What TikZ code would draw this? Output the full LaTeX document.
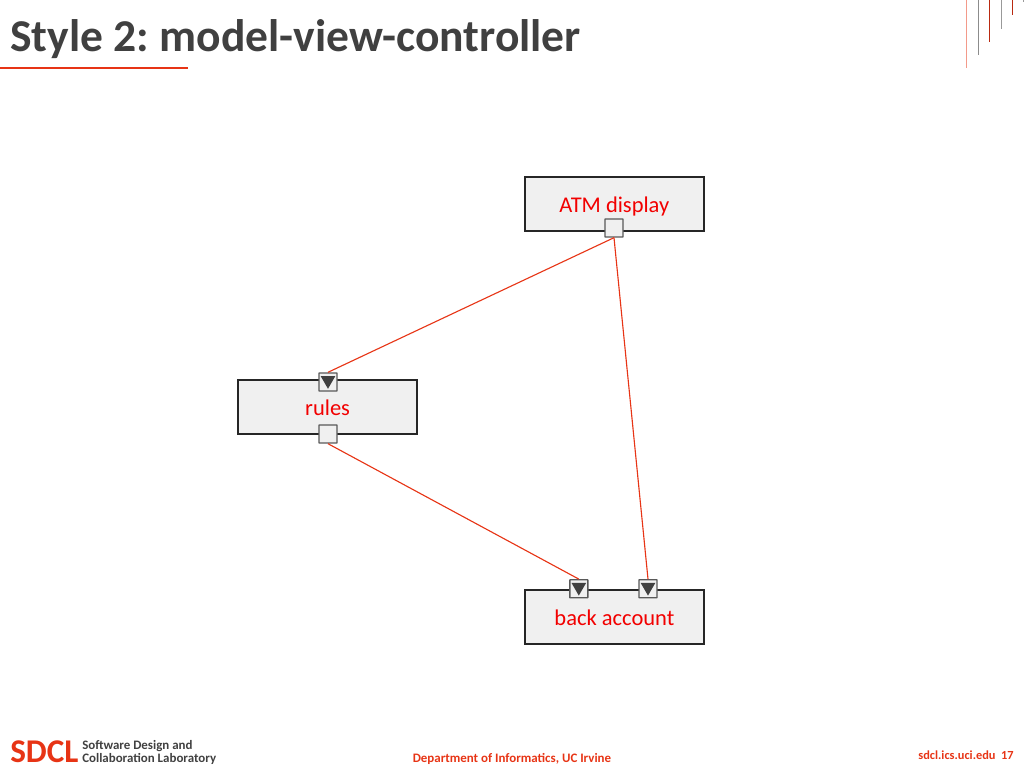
\documentclass[tikz,border=0pt]{standalone}
\usepackage{fontspec}
\setmainfont{Carlito}
\usetikzlibrary{shapes.geometric}
\definecolor{sdclred}{RGB}{231,52,21}
\definecolor{titlegray}{RGB}{64,64,64}
\definecolor{boxfill}{RGB}{240,240,240}
\definecolor{portgray}{RGB}{89,89,89}
\tikzset{
  compbox/.style={draw=black!85,line width=1pt,fill=boxfill,minimum width=4.475cm,minimum height=1.35cm,
    inner sep=0pt,text=red!95!black,font=\fontsize{16}{18}\selectfont,text height=0.54cm,text depth=0.1cm},
  portbox/.style={draw=portgray,line width=1pt,fill=boxfill,minimum size=0.45cm,inner sep=0pt,rounded corners=0.3pt},
  porttip/.style={regular polygon,regular polygon sides=3,shape border rotate=180,fill=titlegray,inner sep=0pt,minimum size=0.42cm,yshift=0.04cm},
  wire/.style={draw=sdclred,line width=0.8pt},
  footer/.style={inner sep=0pt,font=\fontsize{9.2}{10}\selectfont\bfseries},
}
\begin{document}
\begin{tikzpicture}
  \useasboundingbox (0,0) rectangle (25.6,19.2);

  % title
  \node[anchor=base west,inner sep=0pt,text=titlegray,font=\fontsize{32.4}{34}\selectfont\bfseries] (title) at (0.25,17.92) {Style 2:\hspace{7.5pt}model-view-controller};
  \draw[sdclred,line width=1pt] (0,17.5) -- (4.7,17.5);

  % corner lines
  \foreach \x/\y/\c in {24.16/17.5/sdclred!50, 24.45/17.83/black!45, 24.74/18.15/sdclred!80!black, 25.03/18.47/black!40, 25.31/18.82/sdclred!80!black, 25.58/19.14/black!40}
    \draw[\c,line width=0.7pt] (\x,19.2) -- (\x,\y);

  % components
  \node[compbox] (atm) at (15.36,14.1) {ATM display};
  \node[compbox] (rules) at (8.19,9.025) {rules};
  \node[compbox] (account) at (15.36,3.775) {back account};

  % ports
  \node[portbox] (atmout) at (15.35,13.5) {};
  \node[portbox] (rulesin) at (8.2,9.65) {};
  \node[portbox] (rulesout) at (8.2,8.35) {};
  \node[portbox] (accountl) at (14.47,4.48) {};
  \node[portbox] (accountr) at (16.2,4.48) {};
  \node[porttip] at (rulesin) {};
  \node[porttip] at (accountl) {};
  \node[porttip] at (accountr) {};

  % connectors
  \draw[wire] (atmout.south) -- (rulesin.north);
  \draw[wire] (atmout.south) -- (accountr.north);
  \draw[wire] (rulesout.south) -- (accountl.north);

  % footer
  \node[anchor=base west,inner sep=0pt,text=sdclred,font=\fontsize{23.6}{25}\selectfont\bfseries] (sdcl) at (0.25,0.14) {SDCL};
  \node[footer,anchor=base west,text=titlegray] (sdclup) at (2.05,0.46) {Software Design and};
  \node[footer,anchor=base west,text=titlegray] (sdcllow) at (2.05,0.13) {Collaboration Laboratory};
  \node[footer,anchor=base,text=sdclred] (dept) at (12.8,0.13) {Department of Informatics, UC Irvine};
  \node[footer,anchor=base east,text=sdclred,font=\fontsize{8.8}{10}\selectfont\bfseries] (site) at (25.35,0.2) {sdcl.ics.uci.edu\ \ 17};
\end{tikzpicture}
\end{document}
